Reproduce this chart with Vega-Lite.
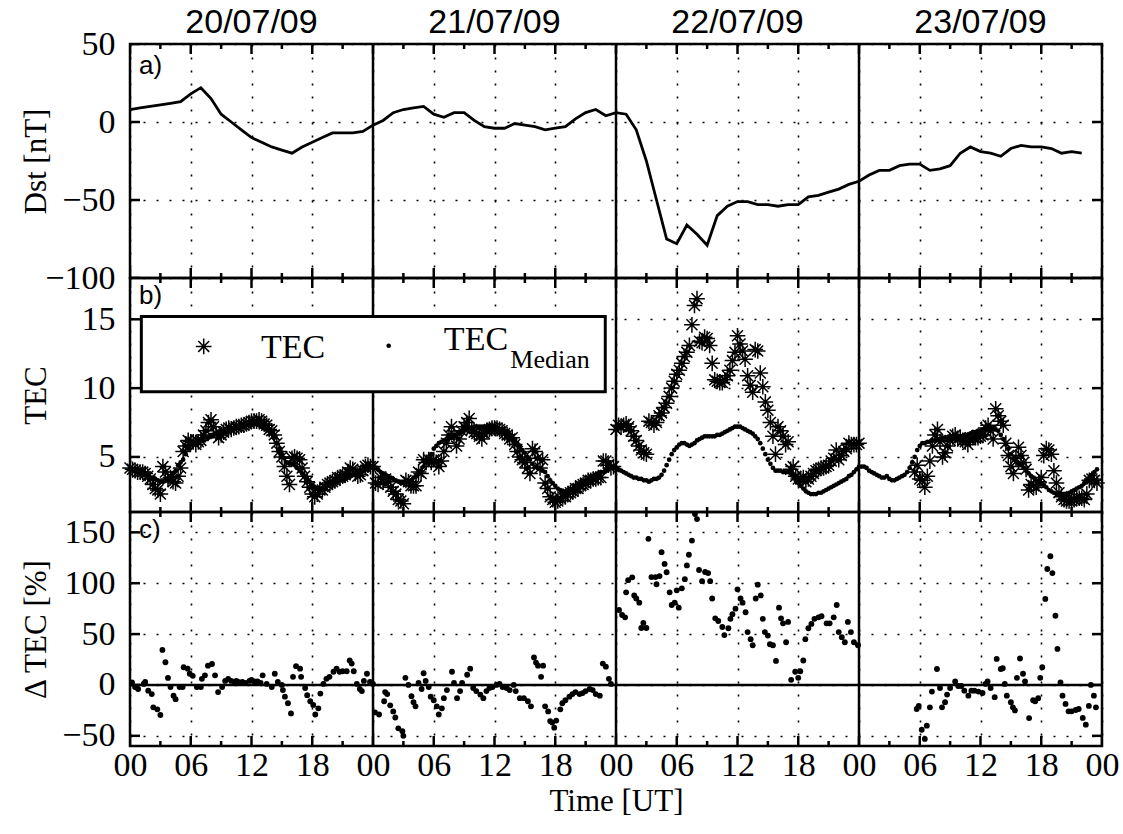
{
  "$schema": "https://vega.github.io/schema/vega-lite/v6.json",
  "background": "white",
  "padding": {"left": 18, "top": 4, "right": 5, "bottom": 5},
  "spacing": 0,
  "bounds": "flush",
  "config": {
    "view": {"stroke": "black", "strokeWidth": 2.5},
    "axis": {"domain": false, "ticks": false, "labelFont": "Liberation Serif", "labelFontSize": 34, "labelColor": "black", "titleFont": "Liberation Serif", "titleFontSize": 31, "titleFontWeight": "normal", "titleColor": "black", "gridColor": "black", "gridDash": [2, 11], "gridWidth": 1.6, "gridOpacity": 1, "labelFlush": false, "labelOverlap": false}
  },
  "datasets": {
    "one": [{}],
    "days": [{"h": 24}, {"h": 48}, {"h": 72}],
    "xmaj": [{"h":0},{"h":6},{"h":12},{"h":18},{"h":24},{"h":30},{"h":36},{"h":42},{"h":48},{"h":54},{"h":60},{"h":66},{"h":72},{"h":78},{"h":84},{"h":90},{"h":96}],
    "xmin": [{"h":3},{"h":9},{"h":15},{"h":21},{"h":27},{"h":33},{"h":39},{"h":45},{"h":51},{"h":57},{"h":63},{"h":69},{"h":75},{"h":81},{"h":87},{"h":93}],
    "dates": [{"h": 12, "t": "20/07/09"}, {"h": 36, "t": "21/07/09"}, {"h": 60, "t": "22/07/09"}, {"h": 84, "t": "23/07/09"}],
    "ya": [{"v": -100}, {"v": -50}, {"v": 0}, {"v": 50}],
    "yb": [{"v": 5}, {"v": 10}, {"v": 15}],
    "yc": [{"v": -50}, {"v": 0}, {"v": 50}, {"v": 100}, {"v": 150}],
    "dst": [
      {"h":0,"v":8},{"h":1,"v":9},{"h":2,"v":10},{"h":3,"v":11},{"h":4,"v":12},{"h":5,"v":13},{"h":6,"v":18},{"h":7,"v":22},{"h":8,"v":15},{"h":9,"v":5},{"h":10,"v":0},{"h":11,"v":-5},{"h":12,"v":-10},{"h":13,"v":-13},{"h":14,"v":-16},{"h":15,"v":-18},{"h":16,"v":-20},{"h":17,"v":-16},{"h":18,"v":-13},{"h":19,"v":-10},{"h":20,"v":-7},{"h":21,"v":-7},{"h":22,"v":-7},{"h":23,"v":-6},
      {"h":24,"v":-2},{"h":25,"v":1},{"h":26,"v":6},{"h":27,"v":8},{"h":28,"v":9},{"h":29,"v":10},{"h":30,"v":5},{"h":31,"v":3},{"h":32,"v":6},{"h":33,"v":6},{"h":34,"v":1},{"h":35,"v":-3},{"h":36,"v":-4},{"h":37,"v":-4},{"h":38,"v":-1},{"h":39,"v":-2},{"h":40,"v":-3},{"h":41,"v":-5},{"h":42,"v":-4},{"h":43,"v":-3},{"h":44,"v":2},{"h":45,"v":6},{"h":46,"v":8},{"h":47,"v":4},
      {"h":48,"v":6},{"h":49,"v":5},{"h":50,"v":-5},{"h":51,"v":-25},{"h":52,"v":-50},{"h":53,"v":-75},{"h":54,"v":-78},{"h":55,"v":-66},{"h":56,"v":-72},{"h":57,"v":-79},{"h":58,"v":-60},{"h":59,"v":-54},{"h":60,"v":-51},{"h":61,"v":-51},{"h":62,"v":-53},{"h":63,"v":-53},{"h":64,"v":-54},{"h":65,"v":-53},{"h":66,"v":-53},{"h":67,"v":-48},{"h":68,"v":-47},{"h":69,"v":-45},{"h":70,"v":-43},{"h":71,"v":-40},
      {"h":72,"v":-38},{"h":73,"v":-34},{"h":74,"v":-31},{"h":75,"v":-31},{"h":76,"v":-28},{"h":77,"v":-27},{"h":78,"v":-27},{"h":79,"v":-31},{"h":80,"v":-30},{"h":81,"v":-28},{"h":82,"v":-20},{"h":83,"v":-16},{"h":84,"v":-19},{"h":85,"v":-20},{"h":86,"v":-22},{"h":87,"v":-17},{"h":88,"v":-15},{"h":89,"v":-16},{"h":90,"v":-16},{"h":91,"v":-17},{"h":92,"v":-20},{"h":93,"v":-19},{"h":94,"v":-20}
    ],
    "med": [
      {"h":0,"v":4.2},{"h":0.25,"v":4.1},{"h":0.5,"v":4.1},{"h":0.75,"v":4.0},{"h":1,"v":3.9},{"h":1.25,"v":3.8},{"h":1.5,"v":3.7},{"h":1.75,"v":3.6},{"h":2,"v":3.5},{"h":2.25,"v":3.4},{"h":2.5,"v":3.4},{"h":2.75,"v":3.3},{"h":3,"v":3.2},{"h":3.25,"v":3.2},{"h":3.5,"v":3.3},{"h":3.75,"v":3.4},{"h":4,"v":3.6},{"h":4.25,"v":3.8},{"h":4.5,"v":4.0},{"h":4.75,"v":4.4},{"h":5,"v":4.6},{"h":5.25,"v":4.8},{"h":5.5,"v":5.2},{"h":5.75,"v":5.6},{"h":6,"v":5.9},{"h":6.25,"v":6.0},{"h":6.5,"v":6.1},{"h":6.75,"v":6.2},{"h":7,"v":6.3},{"h":7.25,"v":6.4},{"h":7.5,"v":6.4},{"h":7.75,"v":6.4},{"h":8,"v":6.5},{"h":8.25,"v":6.6},{"h":8.5,"v":6.7},{"h":8.75,"v":6.8},{"h":9,"v":6.8},{"h":9.25,"v":6.9},{"h":9.5,"v":6.9},{"h":9.75,"v":7.0},{"h":10,"v":7.0},{"h":10.25,"v":7.0},{"h":10.5,"v":7.1},{"h":10.75,"v":7.1},{"h":11,"v":7.2},{"h":11.25,"v":7.2},{"h":11.5,"v":7.3},{"h":11.75,"v":7.3},{"h":12,"v":7.4},{"h":12.25,"v":7.4},{"h":12.5,"v":7.4},{"h":12.75,"v":7.3},{"h":13,"v":7.2},{"h":13.25,"v":7.1},{"h":13.5,"v":7.0},{"h":13.75,"v":6.9},{"h":14,"v":6.7},{"h":14.25,"v":6.4},{"h":14.5,"v":6.0},{"h":14.75,"v":5.6},{"h":15,"v":5.2},{"h":15.25,"v":4.9},{"h":15.5,"v":4.6},{"h":15.75,"v":4.5},{"h":16,"v":4.5},{"h":16.25,"v":4.4},{"h":16.5,"v":4.2},{"h":16.75,"v":4.0},{"h":17,"v":3.8},{"h":17.25,"v":3.6},{"h":17.5,"v":3.4},{"h":17.75,"v":3.2},{"h":18,"v":3.0},{"h":18.25,"v":2.8},{"h":18.5,"v":2.7},{"h":18.75,"v":2.7},{"h":19,"v":2.7},{"h":19.25,"v":2.8},{"h":19.5,"v":2.9},{"h":19.75,"v":3.0},{"h":20,"v":3.0},{"h":20.25,"v":3.1},{"h":20.5,"v":3.2},{"h":20.75,"v":3.3},{"h":21,"v":3.3},{"h":21.25,"v":3.4},{"h":21.5,"v":3.5},{"h":21.75,"v":3.6},{"h":22,"v":3.7},{"h":22.25,"v":3.8},{"h":22.5,"v":3.9},{"h":22.75,"v":4.0},{"h":23,"v":4.1},{"h":23.25,"v":4.2},{"h":23.5,"v":4.3},{"h":23.75,"v":4.3},
      {"h":24,"v":4.3},{"h":24.25,"v":4.2},{"h":24.5,"v":4.1},{"h":24.75,"v":3.9},{"h":25,"v":3.8},{"h":25.25,"v":3.7},{"h":25.5,"v":3.6},{"h":25.75,"v":3.5},{"h":26,"v":3.4},{"h":26.25,"v":3.3},{"h":26.5,"v":3.2},{"h":26.75,"v":3.1},{"h":27,"v":3.1},{"h":27.25,"v":3.1},{"h":27.5,"v":3.2},{"h":27.75,"v":3.3},{"h":28,"v":3.5},{"h":28.25,"v":3.6},{"h":28.5,"v":3.8},{"h":28.75,"v":4.0},{"h":29,"v":4.3},{"h":29.25,"v":4.6},{"h":29.5,"v":4.9},{"h":29.75,"v":5.2},{"h":30,"v":5.6},{"h":30.25,"v":5.8},{"h":30.5,"v":6.0},{"h":30.75,"v":6.1},{"h":31,"v":6.2},{"h":31.25,"v":6.3},{"h":31.5,"v":6.4},{"h":31.75,"v":6.4},{"h":32,"v":6.5},{"h":32.25,"v":6.6},{"h":32.5,"v":6.7},{"h":32.75,"v":6.8},{"h":33,"v":6.9},{"h":33.25,"v":7.0},{"h":33.5,"v":7.1},{"h":33.75,"v":7.1},{"h":34,"v":7.2},{"h":34.25,"v":7.2},{"h":34.5,"v":7.2},{"h":34.75,"v":7.2},{"h":35,"v":7.2},{"h":35.25,"v":7.2},{"h":35.5,"v":7.2},{"h":35.75,"v":7.2},{"h":36,"v":7.1},{"h":36.25,"v":7.1},{"h":36.5,"v":7.0},{"h":36.75,"v":7.0},{"h":37,"v":6.9},{"h":37.25,"v":6.8},{"h":37.5,"v":6.6},{"h":37.75,"v":6.4},{"h":38,"v":6.2},{"h":38.25,"v":6.0},{"h":38.5,"v":5.8},{"h":38.75,"v":5.5},{"h":39,"v":5.3},{"h":39.25,"v":5.0},{"h":39.5,"v":4.8},{"h":39.75,"v":4.5},{"h":40,"v":4.3},{"h":40.25,"v":4.2},{"h":40.5,"v":4.1},{"h":40.75,"v":4.0},{"h":41,"v":3.9},{"h":41.25,"v":3.6},{"h":41.5,"v":3.3},{"h":41.75,"v":3.1},{"h":42,"v":2.9},{"h":42.25,"v":2.7},{"h":42.5,"v":2.6},{"h":42.75,"v":2.5},{"h":43,"v":2.4},{"h":43.25,"v":2.5},{"h":43.5,"v":2.6},{"h":43.75,"v":2.7},{"h":44,"v":2.9},{"h":44.25,"v":3.0},{"h":44.5,"v":3.1},{"h":44.75,"v":3.2},{"h":45,"v":3.3},{"h":45.25,"v":3.4},{"h":45.5,"v":3.5},{"h":45.75,"v":3.6},{"h":46,"v":3.7},{"h":46.25,"v":3.8},{"h":46.5,"v":3.9},{"h":46.75,"v":3.9},{"h":47,"v":4.0},{"h":47.25,"v":4.1},{"h":47.5,"v":4.2},{"h":47.75,"v":4.2},
      {"h":48,"v":4.2},{"h":48.25,"v":4.1},{"h":48.5,"v":4.0},{"h":48.75,"v":3.9},{"h":49,"v":3.8},{"h":49.25,"v":3.7},{"h":49.5,"v":3.6},{"h":49.75,"v":3.5},{"h":50,"v":3.5},{"h":50.25,"v":3.4},{"h":50.5,"v":3.4},{"h":50.75,"v":3.3},{"h":51,"v":3.3},{"h":51.25,"v":3.2},{"h":51.5,"v":3.3},{"h":51.75,"v":3.4},{"h":52,"v":3.4},{"h":52.25,"v":3.5},{"h":52.5,"v":3.7},{"h":52.75,"v":4.0},{"h":53,"v":4.4},{"h":53.25,"v":4.8},{"h":53.5,"v":5.2},{"h":53.75,"v":5.5},{"h":54,"v":5.7},{"h":54.25,"v":5.9},{"h":54.5,"v":6.0},{"h":54.75,"v":6.0},{"h":55,"v":5.9},{"h":55.25,"v":5.8},{"h":55.5,"v":5.9},{"h":55.75,"v":6.0},{"h":56,"v":6.2},{"h":56.25,"v":6.3},{"h":56.5,"v":6.4},{"h":56.75,"v":6.5},{"h":57,"v":6.5},{"h":57.25,"v":6.5},{"h":57.5,"v":6.5},{"h":57.75,"v":6.5},{"h":58,"v":6.6},{"h":58.25,"v":6.6},{"h":58.5,"v":6.7},{"h":58.75,"v":6.8},{"h":59,"v":6.9},{"h":59.25,"v":7.0},{"h":59.5,"v":7.1},{"h":59.75,"v":7.2},{"h":60,"v":7.2},{"h":60.25,"v":7.2},{"h":60.5,"v":7.1},{"h":60.75,"v":7.0},{"h":61,"v":6.9},{"h":61.25,"v":6.8},{"h":61.5,"v":6.7},{"h":61.75,"v":6.5},{"h":62,"v":6.3},{"h":62.25,"v":6.0},{"h":62.5,"v":5.6},{"h":62.75,"v":5.2},{"h":63,"v":4.8},{"h":63.25,"v":4.5},{"h":63.5,"v":4.2},{"h":63.75,"v":4.0},{"h":64,"v":4.0},{"h":64.25,"v":4.0},{"h":64.5,"v":3.9},{"h":64.75,"v":3.9},{"h":65,"v":3.9},{"h":65.25,"v":3.8},{"h":65.5,"v":3.6},{"h":65.75,"v":3.3},{"h":66,"v":3.1},{"h":66.25,"v":2.9},{"h":66.5,"v":2.7},{"h":66.75,"v":2.5},{"h":67,"v":2.4},{"h":67.25,"v":2.3},{"h":67.5,"v":2.3},{"h":67.75,"v":2.3},{"h":68,"v":2.4},{"h":68.25,"v":2.4},{"h":68.5,"v":2.5},{"h":68.75,"v":2.6},{"h":69,"v":2.7},{"h":69.25,"v":2.8},{"h":69.5,"v":2.9},{"h":69.75,"v":3.0},{"h":70,"v":3.1},{"h":70.25,"v":3.2},{"h":70.5,"v":3.3},{"h":70.75,"v":3.4},{"h":71,"v":3.6},{"h":71.25,"v":3.7},{"h":71.5,"v":3.9},{"h":71.75,"v":4.1},
      {"h":72,"v":4.3},{"h":72.25,"v":4.3},{"h":72.5,"v":4.3},{"h":72.75,"v":4.2},{"h":73,"v":4.0},{"h":73.25,"v":3.9},{"h":73.5,"v":3.8},{"h":73.75,"v":3.7},{"h":74,"v":3.6},{"h":74.25,"v":3.5},{"h":74.5,"v":3.5},{"h":74.75,"v":3.6},{"h":75,"v":3.4},{"h":75.25,"v":3.3},{"h":75.5,"v":3.3},{"h":75.75,"v":3.4},{"h":76,"v":3.5},{"h":76.25,"v":3.6},{"h":76.5,"v":3.7},{"h":76.75,"v":3.9},{"h":77,"v":4.2},{"h":77.25,"v":4.6},{"h":77.5,"v":5.0},{"h":77.75,"v":5.5},{"h":78,"v":5.8},{"h":78.25,"v":6.0},{"h":78.5,"v":6.0},{"h":78.75,"v":6.1},{"h":79,"v":6.1},{"h":79.25,"v":6.2},{"h":79.5,"v":6.2},{"h":79.75,"v":6.3},{"h":80,"v":6.3},{"h":80.25,"v":6.4},{"h":80.5,"v":6.4},{"h":80.75,"v":6.4},{"h":81,"v":6.4},{"h":81.25,"v":6.4},{"h":81.5,"v":6.4},{"h":81.75,"v":6.4},{"h":82,"v":6.5},{"h":82.25,"v":6.5},{"h":82.5,"v":6.6},{"h":82.75,"v":6.6},{"h":83,"v":6.7},{"h":83.25,"v":6.8},{"h":83.5,"v":6.8},{"h":83.75,"v":6.9},{"h":84,"v":6.9},{"h":84.25,"v":7.0},{"h":84.5,"v":7.0},{"h":84.75,"v":7.1},{"h":85,"v":7.1},{"h":85.25,"v":7.1},{"h":85.5,"v":7.0},{"h":85.75,"v":6.9},{"h":86,"v":6.6},{"h":86.25,"v":6.3},{"h":86.5,"v":5.9},{"h":86.75,"v":5.6},{"h":87,"v":5.2},{"h":87.25,"v":4.9},{"h":87.5,"v":4.7},{"h":87.75,"v":4.5},{"h":88,"v":4.4},{"h":88.25,"v":4.2},{"h":88.5,"v":4.0},{"h":88.75,"v":3.8},{"h":89,"v":3.6},{"h":89.25,"v":3.5},{"h":89.5,"v":3.3},{"h":89.75,"v":3.2},{"h":90,"v":3.1},{"h":90.25,"v":3.0},{"h":90.5,"v":2.8},{"h":90.75,"v":2.6},{"h":91,"v":2.5},{"h":91.25,"v":2.4},{"h":91.5,"v":2.3},{"h":91.75,"v":2.3},{"h":92,"v":2.3},{"h":92.25,"v":2.3},{"h":92.5,"v":2.3},{"h":92.75,"v":2.4},{"h":93,"v":2.5},{"h":93.25,"v":2.6},{"h":93.5,"v":2.7},{"h":93.75,"v":2.8},{"h":94,"v":2.9},{"h":94.25,"v":3.1},{"h":94.5,"v":3.3},{"h":94.75,"v":3.5},{"h":95,"v":3.7},{"h":95.25,"v":3.9},{"h":95.5,"v":4.1}
    ],
    "tec": [
      {"h":0,"v":4.2},{"h":0.25,"v":4.1},{"h":0.5,"v":4.0},{"h":0.75,"v":3.9},{"h":1,"v":3.9},{"h":1.25,"v":3.9},{"h":1.5,"v":3.8},{"h":1.75,"v":3.6},{"h":2,"v":3.4},{"h":2.25,"v":3.0},{"h":2.5,"v":2.7},{"h":2.75,"v":2.6},{"h":3,"v":2.3},{"h":3.25,"v":4.3},{"h":3.5,"v":3.9},{"h":3.75,"v":3.4},{"h":4,"v":3.5},{"h":4.25,"v":3.2},{"h":4.5,"v":3.1},{"h":4.75,"v":3.6},{"h":5,"v":4.2},{"h":5.25,"v":5.4},{"h":5.5,"v":5.8},{"h":5.75,"v":6.2},{"h":6,"v":6.1},{"h":6.25,"v":6.1},{"h":6.5,"v":5.9},{"h":6.75,"v":6.1},{"h":7,"v":6.2},{"h":7.25,"v":6.6},{"h":7.5,"v":6.9},{"h":7.75,"v":7.5},{"h":8,"v":7.7},{"h":8.25,"v":7.2},{"h":8.5,"v":6.7},{"h":8.75,"v":6.4},{"h":9,"v":6.6},{"h":9.25,"v":6.8},{"h":9.5,"v":7.0},{"h":9.75,"v":7.1},{"h":10,"v":7.0},{"h":10.25,"v":7.1},{"h":10.5,"v":7.2},{"h":10.75,"v":7.2},{"h":11,"v":7.3},{"h":11.25,"v":7.3},{"h":11.5,"v":7.4},{"h":11.75,"v":7.5},{"h":12,"v":7.6},{"h":12.25,"v":7.6},{"h":12.5,"v":7.6},{"h":12.75,"v":7.7},{"h":13,"v":7.6},{"h":13.25,"v":7.4},{"h":13.5,"v":7.3},{"h":13.75,"v":7.0},{"h":14,"v":6.9},{"h":14.25,"v":6.6},{"h":14.5,"v":6.0},{"h":14.75,"v":5.4},{"h":15,"v":5.0},{"h":15.25,"v":4.3},{"h":15.5,"v":3.6},{"h":15.75,"v":3.0},{"h":16,"v":4.9},{"h":16.25,"v":5.0},{"h":16.5,"v":4.9},{"h":16.75,"v":4.8},{"h":17,"v":4.2},{"h":17.25,"v":3.6},{"h":17.5,"v":3.2},{"h":17.75,"v":2.8},{"h":18,"v":2.3},{"h":18.25,"v":2.1},{"h":18.5,"v":2.3},{"h":18.75,"v":2.6},{"h":19,"v":2.6},{"h":19.25,"v":2.8},{"h":19.5,"v":3.0},{"h":19.75,"v":3.1},{"h":20,"v":3.2},{"h":20.25,"v":3.3},{"h":20.5,"v":3.5},{"h":20.75,"v":3.5},{"h":21,"v":3.6},{"h":21.25,"v":3.7},{"h":21.5,"v":3.9},{"h":21.75,"v":4.2},{"h":22,"v":4.1},{"h":22.25,"v":3.8},{"h":22.5,"v":3.6},{"h":22.75,"v":3.7},{"h":23,"v":4.0},{"h":23.25,"v":4.3},{"h":23.5,"v":4.4},{"h":23.75,"v":4.3},
      {"h":24,"v":4.3},{"h":24.25,"v":3.1},{"h":24.5,"v":3.0},{"h":24.75,"v":3.5},{"h":25,"v":3.2},{"h":25.25,"v":3.4},{"h":25.5,"v":3.2},{"h":25.75,"v":2.8},{"h":26,"v":2.5},{"h":26.25,"v":2.3},{"h":26.5,"v":1.9},{"h":26.75,"v":1.8},{"h":27,"v":1.6},{"h":27.25,"v":3.3},{"h":27.5,"v":3.2},{"h":27.75,"v":2.9},{"h":28,"v":2.9},{"h":28.25,"v":2.9},{"h":28.5,"v":3.9},{"h":28.75,"v":3.8},{"h":29,"v":4.8},{"h":29.25,"v":4.6},{"h":29.5,"v":4.8},{"h":29.75,"v":4.6},{"h":30,"v":4.8},{"h":30.25,"v":4.6},{"h":30.5,"v":4.3},{"h":30.75,"v":4.7},{"h":31,"v":5.4},{"h":31.25,"v":6.0},{"h":31.5,"v":6.6},{"h":31.75,"v":7.2},{"h":32,"v":6.6},{"h":32.25,"v":5.8},{"h":32.5,"v":6.3},{"h":32.75,"v":6.9},{"h":33,"v":7.2},{"h":33.25,"v":7.5},{"h":33.5,"v":7.8},{"h":33.75,"v":7.0},{"h":34,"v":6.8},{"h":34.25,"v":6.7},{"h":34.5,"v":6.5},{"h":34.75,"v":6.3},{"h":35,"v":6.7},{"h":35.25,"v":6.9},{"h":35.5,"v":7.0},{"h":35.75,"v":7.1},{"h":36,"v":7.1},{"h":36.25,"v":7.1},{"h":36.5,"v":7.0},{"h":36.75,"v":6.9},{"h":37,"v":6.7},{"h":37.25,"v":6.6},{"h":37.5,"v":6.3},{"h":37.75,"v":6.4},{"h":38,"v":5.9},{"h":38.25,"v":5.4},{"h":38.5,"v":5.0},{"h":38.75,"v":4.8},{"h":39,"v":4.6},{"h":39.25,"v":4.2},{"h":39.5,"v":3.8},{"h":39.75,"v":5.6},{"h":40,"v":5.4},{"h":40.25,"v":4.9},{"h":40.5,"v":4.2},{"h":40.75,"v":4.8},{"h":41,"v":3.1},{"h":41.25,"v":2.7},{"h":41.5,"v":2.1},{"h":41.75,"v":1.9},{"h":42,"v":1.7},{"h":42.25,"v":1.8},{"h":42.5,"v":2.0},{"h":42.75,"v":2.1},{"h":43,"v":2.1},{"h":43.25,"v":2.3},{"h":43.5,"v":2.4},{"h":43.75,"v":2.5},{"h":44,"v":2.7},{"h":44.25,"v":2.7},{"h":44.5,"v":2.9},{"h":44.75,"v":3.0},{"h":45,"v":3.1},{"h":45.25,"v":3.3},{"h":45.5,"v":3.3},{"h":45.75,"v":3.4},{"h":46,"v":3.4},{"h":46.25,"v":3.5},{"h":46.5,"v":3.5},{"h":46.75,"v":4.7},{"h":47,"v":4.7},{"h":47.25,"v":4.4},{"h":47.5,"v":4.2},{"h":47.75,"v":4.3},
      {"h":48,"v":7.0},{"h":48.25,"v":7.3},{"h":48.5,"v":7.2},{"h":48.75,"v":7.3},{"h":49,"v":7.4},{"h":49.25,"v":7.2},{"h":49.5,"v":6.9},{"h":49.75,"v":6.5},{"h":50,"v":6.2},{"h":50.25,"v":5.8},{"h":50.5,"v":5.5},{"h":50.75,"v":5.3},{"h":51,"v":5.2},{"h":51.25,"v":7.6},{"h":51.5,"v":7.5},{"h":51.75,"v":7.3},{"h":52,"v":7.5},{"h":52.25,"v":8.0},{"h":52.5,"v":8.2},{"h":52.75,"v":8.6},{"h":53,"v":8.9},{"h":53.25,"v":9.4},{"h":53.5,"v":10.0},{"h":53.75,"v":10.5},{"h":54,"v":11.0},{"h":54.25,"v":11.3},{"h":54.5,"v":11.8},{"h":54.75,"v":12.3},{"h":55,"v":12.6},{"h":55.25,"v":13.1},{"h":55.5,"v":14.6},{"h":55.75,"v":16.0},{"h":56,"v":16.5},{"h":56.25,"v":13.4},{"h":56.5,"v":13.3},{"h":56.75,"v":13.7},{"h":57,"v":13.6},{"h":57.25,"v":13.1},{"h":57.5,"v":11.8},{"h":57.75,"v":10.6},{"h":58,"v":10.5},{"h":58.25,"v":10.4},{"h":58.5,"v":10.4},{"h":58.75,"v":10.6},{"h":59,"v":10.9},{"h":59.25,"v":11.3},{"h":59.5,"v":12.0},{"h":59.75,"v":12.6},{"h":60,"v":13.8},{"h":60.25,"v":13.2},{"h":60.5,"v":12.7},{"h":60.75,"v":12.1},{"h":61,"v":10.9},{"h":61.25,"v":10.2},{"h":61.5,"v":9.7},{"h":61.75,"v":12.8},{"h":62,"v":12.7},{"h":62.25,"v":11.1},{"h":62.5,"v":10.1},{"h":62.75,"v":9.0},{"h":63,"v":8.4},{"h":63.25,"v":7.5},{"h":63.5,"v":6.5},{"h":63.75,"v":5.2},{"h":64,"v":7.2},{"h":64.25,"v":6.9},{"h":64.5,"v":6.5},{"h":64.75,"v":5.9},{"h":65,"v":6.1},{"h":65.25,"v":4.1},{"h":65.5,"v":4.3},{"h":65.75,"v":3.6},{"h":66,"v":3.4},{"h":66.25,"v":3.4},{"h":66.5,"v":3.5},{"h":66.75,"v":3.2},{"h":67,"v":3.4},{"h":67.25,"v":3.6},{"h":67.5,"v":3.8},{"h":67.75,"v":4.0},{"h":68,"v":4.1},{"h":68.25,"v":4.2},{"h":68.5,"v":4.2},{"h":68.75,"v":4.3},{"h":69,"v":4.4},{"h":69.25,"v":4.7},{"h":69.5,"v":4.9},{"h":69.75,"v":5.5},{"h":70,"v":4.8},{"h":70.25,"v":5.1},{"h":70.5,"v":5.4},{"h":70.75,"v":5.6},{"h":71,"v":6.0},{"h":71.25,"v":5.9},{"h":71.5,"v":5.9},{"h":71.75,"v":5.9},{"h":72,"v":6.0},
      {"h":77.5,"v":3.9},{"h":77.75,"v":4.4},{"h":78,"v":3.4},{"h":78.25,"v":3.3},{"h":78.5,"v":2.8},{"h":78.75,"v":3.6},{"h":79,"v":4.7},{"h":79.25,"v":5.8},{"h":79.5,"v":6.6},{"h":79.75,"v":7.0},{"h":80,"v":6.1},{"h":80.25,"v":5.0},{"h":80.5,"v":5.3},{"h":80.75,"v":5.8},{"h":81,"v":6.2},{"h":81.25,"v":6.5},{"h":81.5,"v":6.6},{"h":81.75,"v":6.3},{"h":82,"v":6.4},{"h":82.25,"v":6.2},{"h":82.5,"v":6.1},{"h":82.75,"v":5.9},{"h":83,"v":6.3},{"h":83.25,"v":6.4},{"h":83.5,"v":6.4},{"h":83.75,"v":6.4},{"h":84,"v":6.5},{"h":84.25,"v":6.6},{"h":84.5,"v":7.1},{"h":84.75,"v":7.3},{"h":85,"v":6.9},{"h":85.25,"v":6.3},{"h":85.5,"v":8.5},{"h":85.75,"v":8.0},{"h":86,"v":7.6},{"h":86.25,"v":7.3},{"h":86.5,"v":6.0},{"h":86.75,"v":5.1},{"h":87,"v":4.3},{"h":87.25,"v":3.8},{"h":87.5,"v":4.9},{"h":87.75,"v":5.7},{"h":88,"v":5.1},{"h":88.25,"v":4.6},{"h":88.5,"v":4.1},{"h":88.75,"v":2.6},{"h":89,"v":3.0},{"h":89.25,"v":2.9},{"h":89.5,"v":2.8},{"h":89.75,"v":3.2},{"h":90,"v":3.5},{"h":90.25,"v":5.1},{"h":90.5,"v":5.6},{"h":90.75,"v":5.5},{"h":91,"v":5.2},{"h":91.25,"v":4.0},{"h":91.5,"v":3.1},{"h":91.75,"v":2.4},{"h":92,"v":2.1},{"h":92.25,"v":1.9},{"h":92.5,"v":1.8},{"h":92.75,"v":1.8},{"h":93,"v":1.8},{"h":93.25,"v":1.9},{"h":93.5,"v":2.0},{"h":93.75,"v":2.0},{"h":94,"v":2.0},{"h":94.25,"v":1.9},{"h":94.5,"v":2.3},{"h":94.75,"v":3.3},{"h":95,"v":3.4},{"h":95.25,"v":3.3},{"h":95.5,"v":3.1}
    ],
    "dtec": [
      {"h":0.2,"v":2.6},{"h":0.5,"v":-2},{"h":0.8,"v":-4},{"h":1.35,"v":1},{"h":1.5,"v":3},{"h":1.8,"v":-5.6},{"h":2.15,"v":-9},{"h":2.3,"v":-22},{"h":2.7,"v":-24},{"h":3.0,"v":-29.5},{"h":3.2,"v":34.4},{"h":3.5,"v":22.3},{"h":3.75,"v":6.9},{"h":4.0,"v":-2},{"h":4.3,"v":-10.5},{"h":4.5,"v":-14},{"h":4.9,"v":-2},{"h":5.2,"v":-2},{"h":5.3,"v":17.4},{"h":5.7,"v":16},{"h":5.9,"v":11},{"h":6.2,"v":9},{"h":6.6,"v":-2},{"h":7.0,"v":-2},{"h":7.1,"v":6},{"h":7.4,"v":9.5},{"h":7.7,"v":19},{"h":8.1,"v":20.6},{"h":8.4,"v":9.5},{"h":8.7,"v":-7},{"h":9.1,"v":-2},{"h":9.4,"v":4},{"h":9.7,"v":6},{"h":10.0,"v":4},{"h":10.3,"v":3},{"h":10.5,"v":4},{"h":10.7,"v":3},{"h":11.1,"v":3},{"h":11.4,"v":2},{"h":11.8,"v":4},{"h":12.0,"v":5},{"h":12.3,"v":3.5},{"h":12.6,"v":3.5},{"h":12.9,"v":2},{"h":13.1,"v":9.5},{"h":13.5,"v":1},{"h":14.0,"v":-2},{"h":14.3,"v":11},{"h":14.6,"v":3},{"h":15.0,"v":0},{"h":15.1,"v":-5},{"h":15.3,"v":-11.5},{"h":15.6,"v":-18},{"h":15.9,"v":-28},{"h":16.1,"v":8},{"h":16.4,"v":18.5},{"h":16.8,"v":16},{"h":16.9,"v":8},{"h":17.3,"v":-3},{"h":17.5,"v":-10},{"h":17.8,"v":-16},{"h":18.1,"v":-19.6},{"h":18.3,"v":-29},{"h":18.6,"v":-23},{"h":18.8,"v":-8.5},{"h":19.1,"v":1},{"h":19.4,"v":6},{"h":19.7,"v":8},{"h":20.1,"v":13},{"h":20.4,"v":16},{"h":20.7,"v":13},{"h":21.0,"v":13.5},{"h":21.4,"v":13.5},{"h":21.7,"v":24},{"h":21.9,"v":21},{"h":22.1,"v":13.5},{"h":22.4,"v":1},{"h":22.7,"v":-4},{"h":22.9,"v":-6},{"h":23.1,"v":4},{"h":23.4,"v":11},{"h":23.7,"v":3},{"h":24.0,"v":1},
      {"h":24.2,"v":-27},{"h":24.6,"v":-29},{"h":25.1,"v":-16},{"h":25.2,"v":-7},{"h":25.4,"v":-9},{"h":25.7,"v":-20},{"h":26.0,"v":-26},{"h":26.2,"v":-32},{"h":26.5,"v":-42.6},{"h":26.9,"v":-45.5},{"h":27.0,"v":-50},{"h":27.2,"v":7},{"h":27.5,"v":0},{"h":27.8,"v":-11},{"h":28.0,"v":-17},{"h":28.2,"v":-21},{"h":28.5,"v":2},{"h":28.8,"v":-4},{"h":29.0,"v":11.5},{"h":29.2,"v":4},{"h":29.5,"v":-2},{"h":29.7,"v":-11.5},{"h":30.0,"v":-15},{"h":30.3,"v":-21},{"h":30.5,"v":-29},{"h":30.8,"v":-23},{"h":31.0,"v":-13},{"h":31.3,"v":-5},{"h":31.8,"v":13},{"h":32.0,"v":2},{"h":32.3,"v":-13},{"h":32.6,"v":-6},{"h":32.8,"v":2},{"h":33.3,"v":10},{"h":33.6,"v":16},{"h":33.9,"v":-3},{"h":34.2,"v":-6},{"h":34.6,"v":-9.5},{"h":34.9,"v":-13},{"h":35.2,"v":-6},{"h":35.5,"v":-3},{"h":35.8,"v":-2},{"h":36.2,"v":0},{"h":36.5,"v":1},{"h":36.8,"v":-2},{"h":37.2,"v":-3},{"h":37.5,"v":-5},{"h":37.9,"v":0},{"h":38.1,"v":-6},{"h":38.5,"v":-13},{"h":38.9,"v":-13},{"h":39.3,"v":-16},{"h":39.6,"v":-21},{"h":39.9,"v":27},{"h":40.1,"v":22},{"h":40.3,"v":19},{"h":40.6,"v":8},{"h":40.8,"v":19},{"h":41.0,"v":-21},{"h":41.3,"v":-26},{"h":41.5,"v":-35.5},{"h":41.7,"v":-37},{"h":41.9,"v":-42},{"h":42.1,"v":-35},{"h":42.5,"v":-24},{"h":42.7,"v":-18},{"h":43.0,"v":-15},{"h":43.4,"v":-11.5},{"h":43.7,"v":-9},{"h":44.0,"v":-7},{"h":44.4,"v":-9},{"h":44.7,"v":-8},{"h":45.0,"v":-6},{"h":45.4,"v":-4},{"h":45.7,"v":-5},{"h":46.0,"v":-9},{"h":46.4,"v":-10.5},{"h":46.7,"v":21},{"h":47.0,"v":18},{"h":47.3,"v":6},{"h":47.5,"v":1},
      {"h":48.3,"v":73.7},{"h":48.6,"v":68.8},{"h":48.9,"v":66.5},{"h":49.0,"v":91},{"h":49.2,"v":103},{"h":49.6,"v":105.8},{"h":49.8,"v":88},{"h":50.0,"v":85},{"h":50.3,"v":80.9},{"h":50.5,"v":56},{"h":50.7,"v":61},{"h":51.0,"v":56},{"h":51.2,"v":143.6},{"h":51.5,"v":106},{"h":51.9,"v":106},{"h":52.0,"v":99},{"h":52.3,"v":107},{"h":52.5,"v":130.5},{"h":52.8,"v":119},{"h":53.0,"v":110.8},{"h":53.3,"v":91},{"h":53.5,"v":78.6},{"h":53.8,"v":80.9},{"h":54.0,"v":93},{"h":54.2,"v":76},{"h":54.5,"v":95},{"h":54.8,"v":104},{"h":55.0,"v":117.5},{"h":55.2,"v":128},{"h":55.5,"v":141.9},{"h":55.8,"v":168},{"h":56.0,"v":163},{"h":56.2,"v":113},{"h":56.5,"v":102},{"h":56.8,"v":111},{"h":57.1,"v":110},{"h":57.3,"v":102},{"h":57.5,"v":85},{"h":57.8,"v":65.5},{"h":58.1,"v":62.9},{"h":58.5,"v":57},{"h":58.7,"v":49},{"h":59.1,"v":55.7},{"h":59.3,"v":65},{"h":59.5,"v":69.5},{"h":59.8,"v":75},{"h":60.0,"v":94},{"h":60.3,"v":85},{"h":60.5,"v":80.9},{"h":60.8,"v":71.5},{"h":61.0,"v":52},{"h":61.3,"v":45},{"h":61.5,"v":39},{"h":61.8,"v":85},{"h":62.0,"v":98.6},{"h":62.3,"v":88},{"h":62.5,"v":65},{"h":62.7,"v":52},{"h":63.0,"v":48.5},{"h":63.2,"v":40},{"h":63.5,"v":39},{"h":63.8,"v":23.6},{"h":64.1,"v":76},{"h":64.3,"v":65.5},{"h":64.5,"v":60.6},{"h":64.8,"v":42},{"h":65.0,"v":62},{"h":65.3,"v":5},{"h":65.7,"v":13},{"h":66.0,"v":7},{"h":66.2,"v":13.5},{"h":66.5,"v":24},{"h":66.7,"v":45},{"h":67.0,"v":55.7},{"h":67.3,"v":60},{"h":67.6,"v":65},{"h":68.0,"v":66.5},{"h":68.3,"v":67.5},{"h":68.8,"v":60.6},{"h":69.1,"v":60.6},{"h":69.5,"v":66.5},{"h":69.8,"v":78.6},{"h":70.0,"v":52},{"h":70.3,"v":47},{"h":70.6,"v":42},{"h":70.9,"v":62},{"h":71.2,"v":52},{"h":71.5,"v":42},{"h":71.9,"v":39},
      {"h":77.7,"v":-23.6},{"h":77.9,"v":-20.6},{"h":78.2,"v":-44},{"h":78.5,"v":-53},{"h":78.7,"v":-40},{"h":79.0,"v":-22},{"h":79.2,"v":-6.5},{"h":79.7,"v":15.7},{"h":80.0,"v":-3},{"h":80.2,"v":-22},{"h":80.5,"v":-17},{"h":80.7,"v":-9.5},{"h":81.0,"v":-3},{"h":81.5,"v":3.5},{"h":81.8,"v":-1},{"h":82.1,"v":-1},{"h":82.4,"v":-5.6},{"h":82.8,"v":-10.5},{"h":83.1,"v":-5.6},{"h":83.4,"v":-5.6},{"h":83.8,"v":-6.5},{"h":84.2,"v":-7.9},{"h":84.5,"v":1},{"h":84.7,"v":3.5},{"h":85.0,"v":-3},{"h":85.4,"v":-12},{"h":85.6,"v":25.6},{"h":86.0,"v":15.7},{"h":86.2,"v":16.4},{"h":86.4,"v":1},{"h":86.6,"v":-10.5},{"h":87.0,"v":-17},{"h":87.2,"v":-22},{"h":87.4,"v":-25},{"h":87.6,"v":7},{"h":87.9,"v":26},{"h":88.2,"v":11},{"h":88.4,"v":3.5},{"h":88.8,"v":-32.6},{"h":89.2,"v":-15},{"h":89.4,"v":-16},{"h":89.7,"v":-13},{"h":89.9,"v":7},{"h":90.1,"v":17.4},{"h":90.4,"v":84.6},{"h":90.6,"v":114},{"h":90.9,"v":126.5},{"h":91.1,"v":110},{"h":91.4,"v":68},{"h":91.6,"v":35.4},{"h":91.9,"v":2.6},{"h":92.1,"v":-10.5},{"h":92.4,"v":-18.6},{"h":92.7,"v":-25.9},{"h":93.0,"v":-25.9},{"h":93.4,"v":-24.6},{"h":93.7,"v":-23.6},{"h":94.1,"v":-32.4},{"h":94.4,"v":-39},{"h":94.7,"v":-20.6},{"h":94.9,"v":0},{"h":95.2,"v":-10.5},{"h":95.4,"v":-22}
    ]
  },
  "vconcat": [
    {
      "width": 972, "height": 234,
      "layer": [
        {"data": {"name": "dst"}, "mark": {"type": "line", "color": "black", "strokeWidth": 2.8},
         "encoding": {
           "x": {"field": "h", "type": "quantitative", "scale": {"domain": [0, 96], "nice": false, "zero": false}, "axis": {"values": [0,6,12,18,24,30,36,42,48,54,60,66,72,78,84,90,96], "grid": true, "labels": false, "title": null}},
           "y": {"field": "v", "type": "quantitative", "scale": {"domain": [-100, 50], "nice": false, "zero": false}, "axis": {"values": [-100, -50, 0, 50], "grid": true, "labelPadding": 15, "title": "Dst [nT]", "titleX": -94, "titleBaseline": "middle"}}
         }},
        {"data": {"name": "days"}, "mark": {"type": "rule", "color": "black", "strokeWidth": 2.5},
         "encoding": {"x": {"field": "h", "type": "quantitative"}}},
        {"data": {"name": "xmaj"}, "mark": {"type": "tick", "orient": "vertical", "size": 20, "thickness": 2.5, "color": "black", "opacity": 1, "clip": true},
         "encoding": {"x": {"field": "h", "type": "quantitative"}, "y": {"datum": 50, "type": "quantitative"}}},
        {"data": {"name": "xmaj"}, "mark": {"type": "tick", "orient": "vertical", "size": 20, "thickness": 2.5, "color": "black", "opacity": 1, "clip": true},
         "encoding": {"x": {"field": "h", "type": "quantitative"}, "y": {"datum": -100, "type": "quantitative"}}},
        {"data": {"name": "xmin"}, "mark": {"type": "tick", "orient": "vertical", "size": 10, "thickness": 2.5, "color": "black", "opacity": 1, "clip": true},
         "encoding": {"x": {"field": "h", "type": "quantitative"}, "y": {"datum": 50, "type": "quantitative"}}},
        {"data": {"name": "xmin"}, "mark": {"type": "tick", "orient": "vertical", "size": 10, "thickness": 2.5, "color": "black", "opacity": 1, "clip": true},
         "encoding": {"x": {"field": "h", "type": "quantitative"}, "y": {"datum": -100, "type": "quantitative"}}},
        {"data": {"name": "ya"}, "mark": {"type": "tick", "orient": "horizontal", "size": 20, "thickness": 2.5, "color": "black", "opacity": 1, "clip": true},
         "encoding": {"y": {"field": "v", "type": "quantitative"}, "x": {"datum": 0, "type": "quantitative"}}},
        {"data": {"name": "ya"}, "mark": {"type": "tick", "orient": "horizontal", "size": 20, "thickness": 2.5, "color": "black", "opacity": 1, "clip": true},
         "encoding": {"y": {"field": "v", "type": "quantitative"}, "x": {"datum": 96, "type": "quantitative"}}},
        {"data": {"name": "dates"}, "mark": {"type": "text", "font": "Liberation Sans", "fontSize": 34, "align": "center", "baseline": "alphabetic", "dy": -11, "color": "black"},
         "encoding": {"x": {"field": "h", "type": "quantitative"}, "y": {"datum": 50, "type": "quantitative"}, "text": {"field": "t"}}},
        {"data": {"name": "one"}, "mark": {"type": "text", "font": "Liberation Sans", "fontSize": 26, "align": "left", "baseline": "top", "color": "black"},
         "encoding": {"x": {"datum": 0.9, "type": "quantitative"}, "y": {"datum": 44, "type": "quantitative"}, "text": {"value": "a)"}}}
      ]
    },
    {
      "width": 972, "height": 234,
      "layer": [
        {"data": {"name": "med"}, "mark": {"type": "circle", "color": "black", "size": 22, "opacity": 1},
         "encoding": {
           "x": {"field": "h", "type": "quantitative", "scale": {"domain": [0, 96], "nice": false, "zero": false}, "axis": {"values": [0,6,12,18,24,30,36,42,48,54,60,66,72,78,84,90,96], "grid": true, "labels": false, "title": null}},
           "y": {"field": "v", "type": "quantitative", "scale": {"domain": [1, 18], "nice": false, "zero": false}, "axis": {"values": [5, 10, 15], "grid": true, "labelPadding": 15, "title": "TEC", "titleX": -94, "titleBaseline": "middle"}}
         }},
        {"data": {"name": "tec"}, "mark": {"type": "point", "shape": "M-1,0L1,0M0,-1L0,1M-0.7,-0.7L0.7,0.7M-0.7,0.7L0.7,-0.7", "filled": false, "stroke": "black", "strokeWidth": 1.5, "size": 245, "opacity": 1},
         "encoding": {"x": {"field": "h", "type": "quantitative"}, "y": {"field": "v", "type": "quantitative"}}},
        {"data": {"name": "days"}, "mark": {"type": "rule", "color": "black", "strokeWidth": 2.5},
         "encoding": {"x": {"field": "h", "type": "quantitative"}}},
        {"data": {"name": "xmaj"}, "mark": {"type": "tick", "orient": "vertical", "size": 20, "thickness": 2.5, "color": "black", "opacity": 1, "clip": true},
         "encoding": {"x": {"field": "h", "type": "quantitative"}, "y": {"datum": 18, "type": "quantitative"}}},
        {"data": {"name": "xmaj"}, "mark": {"type": "tick", "orient": "vertical", "size": 20, "thickness": 2.5, "color": "black", "opacity": 1, "clip": true},
         "encoding": {"x": {"field": "h", "type": "quantitative"}, "y": {"datum": 1, "type": "quantitative"}}},
        {"data": {"name": "xmin"}, "mark": {"type": "tick", "orient": "vertical", "size": 10, "thickness": 2.5, "color": "black", "opacity": 1, "clip": true},
         "encoding": {"x": {"field": "h", "type": "quantitative"}, "y": {"datum": 18, "type": "quantitative"}}},
        {"data": {"name": "xmin"}, "mark": {"type": "tick", "orient": "vertical", "size": 10, "thickness": 2.5, "color": "black", "opacity": 1, "clip": true},
         "encoding": {"x": {"field": "h", "type": "quantitative"}, "y": {"datum": 1, "type": "quantitative"}}},
        {"data": {"name": "yb"}, "mark": {"type": "tick", "orient": "horizontal", "size": 20, "thickness": 2.5, "color": "black", "opacity": 1, "clip": true},
         "encoding": {"y": {"field": "v", "type": "quantitative"}, "x": {"datum": 0, "type": "quantitative"}}},
        {"data": {"name": "yb"}, "mark": {"type": "tick", "orient": "horizontal", "size": 20, "thickness": 2.5, "color": "black", "opacity": 1, "clip": true},
         "encoding": {"y": {"field": "v", "type": "quantitative"}, "x": {"datum": 96, "type": "quantitative"}}},
        {"data": {"name": "one"}, "mark": {"type": "rect", "fill": "white", "stroke": "black", "strokeWidth": 3},
         "encoding": {"x": {"datum": 1.12, "type": "quantitative"}, "x2": {"datum": 46.94}, "y": {"datum": 15.2, "type": "quantitative"}, "y2": {"datum": 9.73}}},
        {"data": {"name": "one"}, "mark": {"type": "point", "shape": "M-1,0L1,0M0,-1L0,1M-0.7,-0.7L0.7,0.7M-0.7,0.7L0.7,-0.7", "filled": false, "stroke": "black", "strokeWidth": 1.5, "size": 245, "opacity": 1},
         "encoding": {"x": {"datum": 7.28, "type": "quantitative"}, "y": {"datum": 13.03, "type": "quantitative"}}},
        {"data": {"name": "one"}, "mark": {"type": "circle", "color": "black", "size": 22, "opacity": 1},
         "encoding": {"x": {"datum": 25.55, "type": "quantitative"}, "y": {"datum": 13.08, "type": "quantitative"}}},
        {"data": {"name": "one"}, "mark": {"type": "text", "font": "Liberation Serif", "fontSize": 34, "align": "center", "baseline": "alphabetic", "color": "black"},
         "encoding": {"x": {"datum": 16.1, "type": "quantitative"}, "y": {"datum": 12.21, "type": "quantitative"}, "text": {"value": "TEC"}}},
        {"data": {"name": "one"}, "mark": {"type": "text", "font": "Liberation Serif", "fontSize": 34, "align": "center", "baseline": "alphabetic", "color": "black"},
         "encoding": {"x": {"datum": 34.17, "type": "quantitative"}, "y": {"datum": 12.79, "type": "quantitative"}, "text": {"value": "TEC"}}},
        {"data": {"name": "one"}, "mark": {"type": "text", "font": "Liberation Serif", "fontSize": 26, "align": "left", "baseline": "alphabetic", "color": "black"},
         "encoding": {"x": {"datum": 37.56, "type": "quantitative"}, "y": {"datum": 11.47, "type": "quantitative"}, "text": {"value": "Median"}}},
        {"data": {"name": "one"}, "mark": {"type": "text", "font": "Liberation Sans", "fontSize": 26, "align": "left", "baseline": "top", "color": "black"},
         "encoding": {"x": {"datum": 0.9, "type": "quantitative"}, "y": {"datum": 17.64, "type": "quantitative"}, "text": {"value": "b)"}}}
      ]
    },
    {
      "width": 972, "height": 234,
      "layer": [
        {"data": {"name": "dtec"}, "mark": {"type": "circle", "color": "black", "size": 34, "opacity": 1},
         "encoding": {
           "x": {"field": "h", "type": "quantitative", "scale": {"domain": [0, 96], "nice": false, "zero": false}, "axis": {"values": [0,6,12,18,24,30,36,42,48,54,60,66,72,78,84,90,96], "grid": true, "labels": true, "labelPadding": 2, "labelExpr": "datum.value % 24 < 10 ? '0' + (datum.value % 24) : '' + (datum.value % 24)", "title": "Time [UT]", "titlePadding": 4}},
           "y": {"field": "v", "type": "quantitative", "scale": {"domain": [-60, 170], "nice": false, "zero": false}, "axis": {"values": [-50, 0, 50, 100, 150], "grid": true, "labelPadding": 15, "title": "Δ TEC [%]", "titleX": -94, "titleBaseline": "middle"}}
         }},
        {"data": {"name": "one"}, "mark": {"type": "rule", "color": "black", "strokeWidth": 2.5},
         "encoding": {"y": {"datum": 0, "type": "quantitative"}}},
        {"data": {"name": "days"}, "mark": {"type": "rule", "color": "black", "strokeWidth": 2.5},
         "encoding": {"x": {"field": "h", "type": "quantitative"}}},
        {"data": {"name": "xmaj"}, "mark": {"type": "tick", "orient": "vertical", "size": 20, "thickness": 2.5, "color": "black", "opacity": 1, "clip": true},
         "encoding": {"x": {"field": "h", "type": "quantitative"}, "y": {"datum": 170, "type": "quantitative"}}},
        {"data": {"name": "xmaj"}, "mark": {"type": "tick", "orient": "vertical", "size": 20, "thickness": 2.5, "color": "black", "opacity": 1, "clip": true},
         "encoding": {"x": {"field": "h", "type": "quantitative"}, "y": {"datum": -60, "type": "quantitative"}}},
        {"data": {"name": "xmin"}, "mark": {"type": "tick", "orient": "vertical", "size": 10, "thickness": 2.5, "color": "black", "opacity": 1, "clip": true},
         "encoding": {"x": {"field": "h", "type": "quantitative"}, "y": {"datum": 170, "type": "quantitative"}}},
        {"data": {"name": "xmin"}, "mark": {"type": "tick", "orient": "vertical", "size": 10, "thickness": 2.5, "color": "black", "opacity": 1, "clip": true},
         "encoding": {"x": {"field": "h", "type": "quantitative"}, "y": {"datum": -60, "type": "quantitative"}}},
        {"data": {"name": "yc"}, "mark": {"type": "tick", "orient": "horizontal", "size": 20, "thickness": 2.5, "color": "black", "opacity": 1, "clip": true},
         "encoding": {"y": {"field": "v", "type": "quantitative"}, "x": {"datum": 0, "type": "quantitative"}}},
        {"data": {"name": "yc"}, "mark": {"type": "tick", "orient": "horizontal", "size": 20, "thickness": 2.5, "color": "black", "opacity": 1, "clip": true},
         "encoding": {"y": {"field": "v", "type": "quantitative"}, "x": {"datum": 96, "type": "quantitative"}}},
        {"data": {"name": "one"}, "mark": {"type": "text", "font": "Liberation Sans", "fontSize": 26, "align": "left", "baseline": "top", "color": "black"},
         "encoding": {"x": {"datum": 0.9, "type": "quantitative"}, "y": {"datum": 165, "type": "quantitative"}, "text": {"value": "c)"}}}
      ]
    }
  ]
}
